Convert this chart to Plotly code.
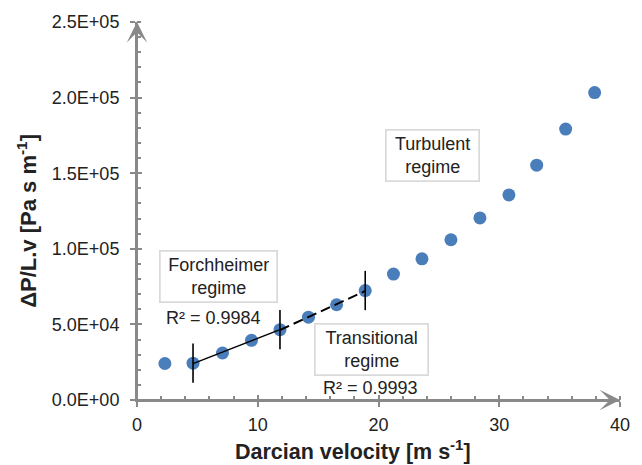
import numpy as np
import plotly.graph_objects as go

# ---- data ----
velocity = [2.31, 4.64, 7.08, 9.48, 11.84, 14.2, 16.53, 18.9,
            21.24, 23.6, 26.0, 28.4, 30.8, 33.1, 35.5, 37.9]
dp_lv = [24150, 24350, 31100, 39500, 46500, 54800, 63000, 72400,
         83300, 93400, 106000, 120400, 135600, 155300, 179200, 203300]

forch_range = (1, 4)        # indices of points fitted (Forchheimer)
trans_range = (4, 7)        # indices of points fitted (Transitional)
boundary_idx = [1, 4, 7]    # regime boundaries
boundary_halfspan = 13000
r2_forch = "R² = 0.9984"
r2_trans = "R² = 0.9993"

x_ticks = [0, 10, 20, 30, 40]
x_ticktext = ["0", "10", "20", "30", "40"]
y_ticks = [0, 50000, 100000, 150000, 200000, 250000]
y_ticktext = ["0.0E+00", "5.0E+04", "1.0E+05", "1.5E+05", "2.0E+05", "2.5E+05"]

AX = "#898989"
TXT = "#222222"
FONT = "Liberation Sans, Arial, sans-serif"

vx = np.array(velocity)
vy = np.array(dp_lv)

fig = go.Figure()
fig.add_trace(go.Scatter(x=velocity, y=dp_lv, mode="markers",
                         marker=dict(size=13, color="#4A7EBB", line=dict(width=0)),
                         showlegend=False, cliponaxis=False))

def fit_line(i0, i1):
    xs = vx[i0:i1 + 1]
    ys = vy[i0:i1 + 1]
    a, b = np.polyfit(xs, ys, 1)
    xl = np.array([xs[0], xs[-1]])
    return xl, a * xl + b

xl, yl = fit_line(*forch_range)
fig.add_trace(go.Scatter(x=xl, y=yl, mode="lines",
                         line=dict(color="black", width=1.5), showlegend=False))
xl, yl = fit_line(*trans_range)
fig.add_trace(go.Scatter(x=xl, y=yl, mode="lines",
                         line=dict(color="black", width=2, dash="10px,5px"), showlegend=False))

fig.add_trace(go.Scatter(x=[velocity[i] for i in boundary_idx],
                         y=[dp_lv[i] for i in boundary_idx],
                         mode="markers", marker=dict(size=1, color="rgba(0,0,0,0)"),
                         error_y=dict(type="constant", value=boundary_halfspan,
                                      color="black", thickness=1.6, width=0),
                         showlegend=False))

# overlay axes to make the major ticks cross the axis line
fig.add_trace(go.Scatter(x=[None], y=[None], xaxis="x2", yaxis="y2", showlegend=False))

axis_common = dict(showgrid=False, zeroline=False, showline=True, linecolor=AX,
                   linewidth=2, ticks="outside", ticklen=5, tickwidth=1.5, tickcolor=AX,
                   tickfont=dict(family=FONT, size=18, color=TXT))

fig.update_layout(
    width=642, height=465,
    margin=dict(l=137, r=21, t=19, b=65),
    paper_bgcolor="white", plot_bgcolor="white",
    xaxis=dict(range=[0, 40], tickvals=x_ticks, ticktext=x_ticktext,
               ticklabelstandoff=2,
               minor=dict(dtick=2, ticks="inside", ticklen=4, tickcolor=AX, tickwidth=1.5),
               **axis_common),
    yaxis=dict(range=[0, 250000], tickvals=y_ticks, ticktext=y_ticktext,
               ticklabelstandoff=7,
               minor=dict(dtick=10000, ticks="inside", ticklen=4, tickcolor=AX, tickwidth=1.5),
               **axis_common),
    xaxis2=dict(range=[0, 40], overlaying="x", anchor="y2", side="bottom",
                tickvals=x_ticks, showticklabels=False, ticks="inside", ticklen=5,
                tickwidth=1.5, tickcolor=AX, showgrid=False, zeroline=False, showline=False),
    yaxis2=dict(range=[0, 250000], overlaying="y", anchor="x2", side="left",
                tickvals=y_ticks, showticklabels=False, ticks="inside", ticklen=5,
                tickwidth=1.5, tickcolor=AX, showgrid=False, zeroline=False, showline=False),
    font=dict(family=FONT, color=TXT),
)

# axis arrows
arrow = dict(xref="x", yref="y", axref="x", ayref="y", showarrow=True, arrowhead=3,
             arrowsize=1.7, arrowwidth=2, arrowcolor=AX, text="", standoff=0)
fig.add_annotation(x=40, y=0, ax=0, ay=0, **arrow)
fig.add_annotation(x=0, y=250000, ax=0, ay=0, **arrow)

box = dict(showarrow=False, bgcolor="white", bordercolor="#D9D9D9", borderwidth=1.7,
           borderpad=2, font=dict(family=FONT, size=18, color=TXT))
fig.add_annotation(x=6.72, y=81500, text="Forchheimer<br>regime", width=112, height=46, **box)
fig.add_annotation(x=19.46, y=33600, text="Transitional<br>regime", width=108, height=46, **box)
fig.add_annotation(x=24.5, y=161800, text="Turbulent<br>regime", width=88, height=46, **box)

fig.add_annotation(x=6.31, y=54400, text=r2_forch, showarrow=False,
                   font=dict(family=FONT, size=18, color=TXT))
fig.add_annotation(x=19.32, y=8200, text=r2_trans, showarrow=False,
                   font=dict(family=FONT, size=18, color=TXT))

# axis titles
fig.add_annotation(x=0.448, y=-0.131, xref="paper", yref="paper", showarrow=False,
                   text="<b>Darcian velocity [m s<sup>-1</sup>]</b>",
                   font=dict(family=FONT, size=21.5, color=TXT), yanchor="middle")
fig.add_annotation(x=-0.227, y=0.475, xref="paper", yref="paper", showarrow=False,
                   text="<b>ΔP/L.v [Pa s m<sup>-1</sup>]</b>", textangle=-90,
                   font=dict(family=FONT, size=22, color=TXT), xanchor="center", yanchor="middle")

fig.write_html("out.html", config={"displayModeBar": False},
               post_script="document.body.style.margin='0';document.body.style.overflow='hidden';")
